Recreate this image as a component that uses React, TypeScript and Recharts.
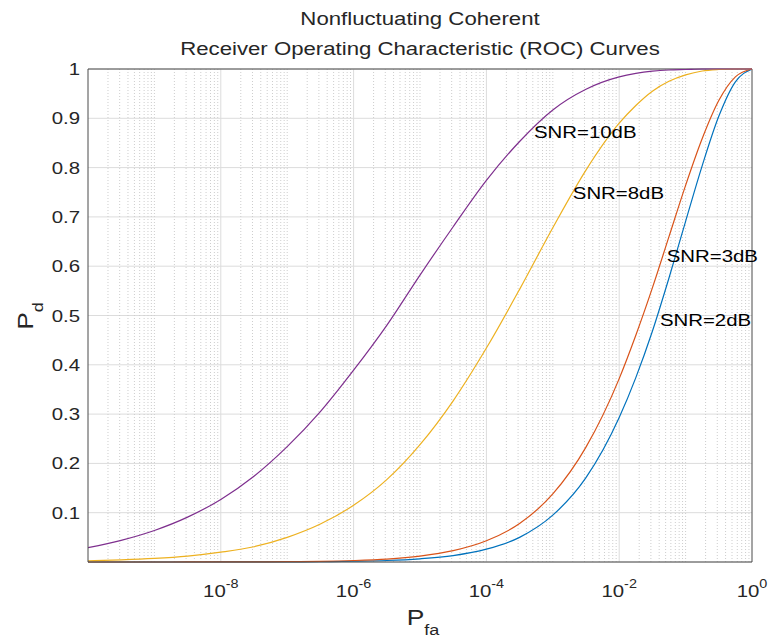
import React from "react";
import {
  LineChart,
  Line,
  XAxis,
  YAxis,
  CartesianGrid,
  ReferenceLine,
  ReferenceDot,
} from "recharts";

// false alarm probability (x, log scale)
const pfa = [
  1e-10, 3.16e-10, 1e-9, 3.16e-9, 1e-8, 3.16e-8, 1e-7, 3.16e-7, 1e-6, 3.16e-6,
  1e-5, 3.16e-5, 1e-4, 3.16e-4, 1e-3, 3.16e-3, 1e-2, 1.78e-2, 3.16e-2, 5.62e-2,
  0.1, 0.178, 0.316, 0.562, 1,
];

// detection probability
const pd2dB = [
  0, 0, 0, 0, 0.0001, 0.0001, 0.0003, 0.0007, 0.0015, 0.003,
  0.0065, 0.013, 0.026, 0.05, 0.095, 0.171, 0.293, 0.374, 0.468, 0.576,
  0.691, 0.804, 0.904, 0.974, 1,
];
const pd3dB = [
  0, 0, 0, 0.0001, 0.0002, 0.0003, 0.0007, 0.0014, 0.003, 0.006,
  0.012, 0.023, 0.043, 0.078, 0.138, 0.233, 0.372, 0.46, 0.556, 0.66,
  0.764, 0.859, 0.936, 0.984, 1,
];
const pd8dB = [
  0.0025, 0.0043, 0.0072, 0.012, 0.02, 0.031, 0.05, 0.077, 0.115, 0.167,
  0.238, 0.327, 0.434, 0.553, 0.678, 0.795, 0.89, 0.926, 0.955, 0.975,
  0.988, 0.996, 0.999, 1, 1,
];
const pd10dB = [
  0.029, 0.044, 0.064, 0.091, 0.127, 0.174, 0.234, 0.305, 0.389, 0.48,
  0.582, 0.68, 0.774, 0.853, 0.917, 0.959, 0.984, 0.991, 0.9955, 0.998,
  0.999, 1, 1, 1, 1,
];

const xMajorTicks = [1e-10, 1e-8, 1e-6, 1e-4, 1e-2, 1];
const xTickExponents = ["", "-8", "-6", "-4", "-2", "0"];
const yTicks = [0.1, 0.2, 0.3, 0.4, 0.5, 0.6, 0.7, 0.8, 0.9, 1];
const yTickLabels = ["0.1", "0.2", "0.3", "0.4", "0.5", "0.6", "0.7", "0.8", "0.9", "1"];

const decades = [-10, -9, -8, -7, -6, -5, -4, -3, -2, -1];
const multiples = [1, 2, 3, 4, 5, 6, 7, 8, 9];
const minorTicks = decades
  .flatMap((d) => multiples.map((m) => m * Math.pow(10, d)))
  .filter((v) => !xMajorTicks.some((t) => Math.abs(t - v) / t < 1e-6));

const annotations = [
  { text: "SNR=10dB", x: 5.2e-4, y: 0.873 },
  { text: "SNR=8dB", x: 2.0e-3, y: 0.748 },
  { text: "SNR=3dB", x: 0.052, y: 0.621 },
  { text: "SNR=2dB", x: 0.041, y: 0.491 },
];

const data = pfa.map((x, i) => ({
  pfa: x,
  s2: pd2dB[i],
  s3: pd3dB[i],
  s8: pd8dB[i],
  s10: pd10dB[i],
}));

const FONT = "'Liberation Sans', Arial, Helvetica, sans-serif";
const SX = 1.2;
const AXIS = "#4a4a4a";
const TXT = "#262626";
const GRID = "#dcdcdc";
const MINOR = "#cdcdcd";

const XTick = (props: any) => {
  const { x, y, index } = props;
  const exp = xTickExponents[index];
  if (!exp) return null;
  return (
    <text
      transform={`translate(${x},${y + 35}) scale(${SX},1)`}
      textAnchor="middle"
      fontFamily={FONT}
      fontSize={17}
      fill={TXT}
    >
      <tspan>10</tspan>
      <tspan dy={-9} fontSize={12}>
        {exp}
      </tspan>
    </text>
  );
};

const YTick = (props: any) => {
  const { x, y, index } = props;
  return (
    <text
      transform={`translate(${x},${y + 6}) scale(${SX},1)`}
      textAnchor="end"
      fontFamily={FONT}
      fontSize={17}
      fill={TXT}
    >
      {yTickLabels[index]}
    </text>
  );
};

const NoteShape = (text: string) => (props: any) => (
  <text
    transform={`translate(${props.cx},${props.cy + 6}) scale(${SX},1)`}
    fontFamily={FONT}
    fontSize={17}
    fill="#000"
  >
    {text}
  </text>
);

const X_DOMAIN: [number, number] = [1e-10, 1];

export default function App() {
  return (
    <div style={{ position: "absolute", left: 0, top: 0, width: 769, height: 644, background: "#fff" }}>
      <LineChart
        width={769}
        height={644}
        data={data}
        margin={{ top: 69, right: 17, bottom: 0, left: 0 }}
      >
        <CartesianGrid xAxisId="x" yAxisId="y" vertical={false} stroke={GRID} strokeWidth={1} />
        {minorTicks.map((v) => (
          <ReferenceLine
            key={"m" + v}
            xAxisId="x"
            yAxisId="y"
            x={v}
            stroke={MINOR}
            strokeDasharray="1 2"
          />
        ))}
        {xMajorTicks.slice(1, -1).map((v) => (
          <ReferenceLine key={"M" + v} xAxisId="x" yAxisId="y" x={v} stroke={GRID} />
        ))}
        <ReferenceLine xAxisId="x" yAxisId="y" y={1} stroke={AXIS} />
        <ReferenceLine xAxisId="x" yAxisId="y" x={1} stroke={AXIS} />
        <XAxis
          xAxisId="x"
          dataKey="pfa"
          type="number"
          scale="log"
          domain={X_DOMAIN}
          allowDataOverflow
          ticks={xMajorTicks}
          tick={<XTick />}
          tickLine={false}
          tickSize={0}
          tickMargin={0}
          axisLine={{ stroke: AXIS }}
          height={82}
        />
        <XAxis xAxisId="bMinor" dataKey="pfa" type="number" scale="log" domain={X_DOMAIN} allowDataOverflow height={0}
          ticks={minorTicks} tick={false} tickSize={3} axisLine={false} tickLine={{ stroke: AXIS }} mirror orientation="bottom" />
        <XAxis xAxisId="bMajor" dataKey="pfa" type="number" scale="log" domain={X_DOMAIN} allowDataOverflow height={0}
          ticks={xMajorTicks} tick={false} tickSize={5} axisLine={false} tickLine={{ stroke: AXIS }} mirror orientation="bottom" />
        <XAxis xAxisId="tMinor" dataKey="pfa" type="number" scale="log" domain={X_DOMAIN} allowDataOverflow height={0}
          ticks={minorTicks} tick={false} tickSize={3} axisLine={{ stroke: AXIS }} tickLine={{ stroke: AXIS }} mirror orientation="top" />
        <XAxis xAxisId="tMajor" dataKey="pfa" type="number" scale="log" domain={X_DOMAIN} allowDataOverflow height={0}
          ticks={xMajorTicks} tick={false} tickSize={5} axisLine={false} tickLine={{ stroke: AXIS }} mirror orientation="top" />
        <YAxis
          yAxisId="y"
          type="number"
          domain={[0, 1]}
          ticks={yTicks}
          tick={<YTick />}
          tickLine={false}
          tickSize={0}
          tickMargin={8}
          axisLine={{ stroke: AXIS }}
          width={88}
        />
        <YAxis yAxisId="yl" type="number" domain={[0, 1]} ticks={yTicks} tick={false} tickSize={5} width={0}
          axisLine={false} tickLine={{ stroke: AXIS }} mirror orientation="left" />
        <YAxis yAxisId="yr" type="number" domain={[0, 1]} ticks={yTicks} tick={false} tickSize={5} width={0}
          axisLine={{ stroke: AXIS }} tickLine={{ stroke: AXIS }} mirror orientation="right" />
        <Line xAxisId="x" yAxisId="y" dataKey="s2" type="monotone" stroke="#0072BD" strokeWidth={1.2} dot={false} isAnimationActive={false} />
        <Line xAxisId="x" yAxisId="y" dataKey="s3" type="monotone" stroke="#D95319" strokeWidth={1.2} dot={false} isAnimationActive={false} />
        <Line xAxisId="x" yAxisId="y" dataKey="s8" type="monotone" stroke="#EDB120" strokeWidth={1.2} dot={false} isAnimationActive={false} />
        <Line xAxisId="x" yAxisId="y" dataKey="s10" type="monotone" stroke="#7E2F8E" strokeWidth={1.2} dot={false} isAnimationActive={false} />
        {annotations.map((a) => (
          <ReferenceDot
            key={a.text}
            xAxisId="x"
            yAxisId="y"
            x={a.x}
            y={a.y}
            r={0}
            shape={NoteShape(a.text)}
          />
        ))}
      </LineChart>
      <svg
        width={769}
        height={644}
        style={{ position: "absolute", left: 0, top: 0, pointerEvents: "none" }}
      >
        <g fontFamily={FONT} fill={TXT} textAnchor="middle">
          <text transform={`translate(420,25) scale(${SX},1)`} fontSize={18.5}>
            Nonfluctuating Coherent
          </text>
          <text transform={`translate(420,55) scale(${SX},1)`} fontSize={18.5}>
            Receiver Operating Characteristic (ROC) Curves
          </text>
          <text transform={`translate(423,625) scale(${SX},1)`} fontSize={22}>
            <tspan>P</tspan>
            <tspan dy={10} fontSize={15}>fa</tspan>
          </text>
          <text transform={`translate(33,316) rotate(-90) scale(${SX},1)`} fontSize={22}>
            <tspan>P</tspan>
            <tspan dy={10} fontSize={15}>d</tspan>
          </text>
        </g>
      </svg>
    </div>
  );
}
